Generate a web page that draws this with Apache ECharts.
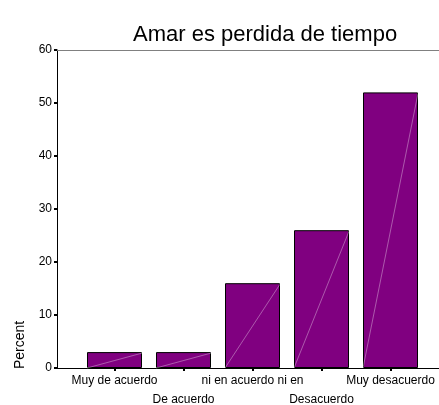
<!DOCTYPE html>
<html>
<head>
<meta charset="utf-8">
<script src="https://cdn.jsdelivr.net/npm/echarts@6/dist/echarts.min.js"></script>
<style>html,body{margin:0;padding:0;background:#fff}#c{width:439px;height:405px}</style>
</head>
<body>
<div id="c"></div>
<script>
var categories = ['Muy de acuerdo', 'De acuerdo', 'ni en acuerdo ni en', 'Desacuerdo', 'Muy desacuerdo'];
var percents = [3, 3, 16, 26, 52];
var yTicks = [0, 10, 20, 30, 40, 50, 60];
var titleText = 'Amar es perdida de tiempo';
var yName = 'Percent';

var FONT = '"Liberation Sans", Arial, sans-serif';
var BAR_W = 55;
var chart = echarts.init(document.getElementById('c'), null, {renderer: 'canvas'});
chart.setOption({
  animation: false,
  backgroundColor: '#fff',
  title: {
    text: titleText, left: 128, top: 19,
    textStyle: {fontFamily: FONT, fontSize: 22, fontWeight: 'normal', color: '#000'}
  },
  graphic: [{
    type: 'text', x: 20, y: 345, rotation: Math.PI / 2,
    style: {text: yName, fontFamily: FONT, fontSize: 14, fill: '#000', align: 'center', verticalAlign: 'middle'}
  }],
  grid: [
    {left: 57, right: 0, top: 50, bottom: 37, outerBoundsMode: 'none', containLabel: false},
    {left: 80, right: 14, top: 50, bottom: 37, outerBoundsMode: 'none', containLabel: false}
  ],
  xAxis: [
    {gridIndex: 0, type: 'value', min: 0, max: 1, position: 'bottom',
     axisLine: {show: true, lineStyle: {color: '#000', width: 1}}, axisTick: {show: false},
     axisLabel: {show: false}, splitLine: {show: false}},
    {gridIndex: 0, type: 'value', min: 0, max: 1, position: 'top',
     axisLine: {show: true, lineStyle: {color: '#808080', width: 1}}, axisTick: {show: false},
     axisLabel: {show: false}, splitLine: {show: false}},
    {gridIndex: 1, type: 'category', data: categories, position: 'bottom',
     axisLine: {show: false},
     axisTick: {show: true, alignWithLabel: true, length: 3, lineStyle: {color: '#000', width: 2}},
     axisLabel: {
       interval: 0, margin: 3, color: '#000', fontFamily: FONT, fontSize: 12, lineHeight: 19,
       formatter: function (v, i) { return i % 2 === 1 ? '\n' + v : v; }
     },
     splitLine: {show: false}}
  ],
  yAxis: [
    {gridIndex: 0, type: 'value', min: yTicks[0], max: yTicks[yTicks.length - 1], interval: 10,
     axisLine: {show: true, lineStyle: {color: '#000', width: 1}},
     axisTick: {show: true, length: 3, lineStyle: {color: '#000', width: 2}},
     axisLabel: {margin: 5, color: '#000', fontFamily: FONT, fontSize: 12},
     splitLine: {show: false}},
    {gridIndex: 1, type: 'value', min: yTicks[0], max: yTicks[yTicks.length - 1], show: false}
  ],
  series: [
    {type: 'bar', xAxisIndex: 2, yAxisIndex: 1, data: percents, barWidth: BAR_W,
     itemStyle: {color: '#800080', borderColor: '#000', borderWidth: 1}},
    {type: 'custom', xAxisIndex: 2, yAxisIndex: 1, data: percents.map(function (v, i) { return [i, v]; }),
     z: 3,
     renderItem: function (params, api) {
       var p0 = api.coord([api.value(0), 0]);
       var p1 = api.coord([api.value(0), api.value(1)]);
       var h = BAR_W / 2;
       return {type: 'line', shape: {x1: p0[0] - h, y1: p0[1], x2: p1[0] + h, y2: p1[1] + 1},
               style: {stroke: 'rgba(255,255,255,0.35)', lineWidth: 1}};
     }}
  ]
});
</script>
</body>
</html>
